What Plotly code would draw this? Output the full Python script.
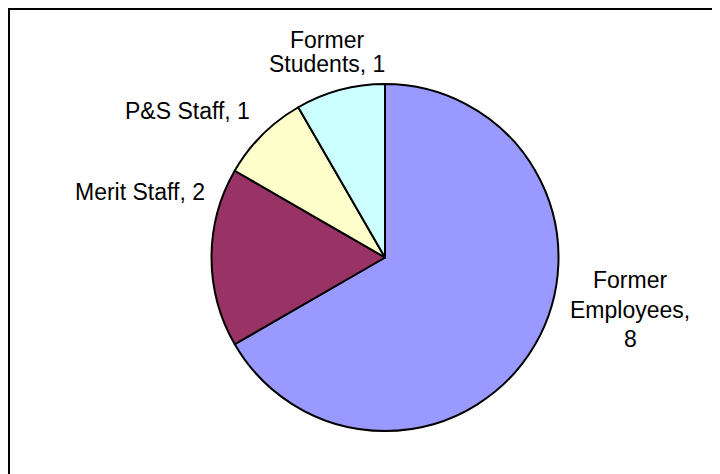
import plotly.graph_objects as go

# slice data (clockwise from 12 o'clock)
labels = ["Former Employees", "Merit Staff", "P&S Staff", "Former Students"]
values = [8, 2, 1, 1]
colors = ["#9999FF", "#993366", "#FFFFCC", "#CCFFFF"]

# how each label is wrapped on the chart
label_lines = [
    ["Former", "Employees,", "{v}"],
    ["Merit Staff, {v}"],
    ["P&S Staff, {v}"],
    ["Former", "Students, {v}"],
]

W, H = 720, 474
OFF = 8  # page body margin pushes the figure 8px right/down


def px(x):
    return (x - OFF) / W


def py(y):
    return 1 - (y - OFF) / H


fig = go.Figure(
    go.Pie(
        labels=labels,
        values=values,
        marker=dict(colors=colors, line=dict(color="black", width=2)),
        sort=False,
        direction="clockwise",
        rotation=0,
        textinfo="none",
        hoverinfo="label+value",
        domain=dict(x=[px(211.5), px(558.5)], y=[py(431), py(84)]),
        showlegend=False,
    )
)

# label placement (pixel centres of each line in the reference)
label_pos = [
    (630, [280, 310, 339]),
    (140, [192]),
    (187, [111]),
    (327, [40, 64]),
]

for lines, val, (cx, ys) in zip(label_lines, values, label_pos):
    for line, y in zip(lines, ys):
        fig.add_annotation(
            x=px(cx), y=py(y), xref="paper", yref="paper",
            text=line.format(v=val), showarrow=False,
            xanchor="center", yanchor="middle",
            font=dict(family="Liberation Sans, Arial", size=23, color="black"),
        )

# chart frame (only top and left edges fall inside the picture)
fig.add_shape(type="line", xref="paper", yref="paper",
              x0=px(8), x1=1.05, y0=py(8) - 1 / H, y1=py(8) - 1 / H,
              line=dict(color="black", width=2))
fig.add_shape(type="line", xref="paper", yref="paper",
              x0=px(8) + 1 / W, x1=px(8) + 1 / W, y0=py(8), y1=-0.05,
              line=dict(color="black", width=2))

fig.update_layout(
    width=W, height=H,
    margin=dict(l=0, r=0, t=0, b=0),
    paper_bgcolor="white",
    plot_bgcolor="white",
)

fig.write_html("out.html")
